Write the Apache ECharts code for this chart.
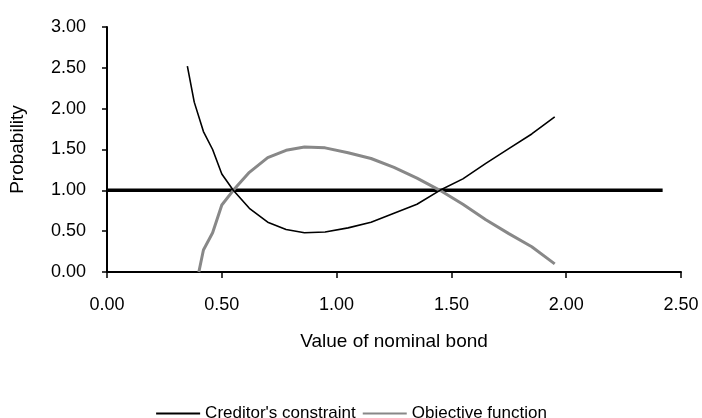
<!DOCTYPE html>
<html>
<head>
<meta charset="utf-8">
<script src="https://cdn.jsdelivr.net/npm/echarts@6/dist/echarts.min.js"></script>
<style>html,body{margin:0;padding:0;background:#fff}#c{width:702px;height:418px}</style>
</head>
<body>
<div id="c"></div>
<script>
var creditorX = [0.35, 0.38, 0.42, 0.46, 0.50, 0.55, 0.62, 0.70, 0.78, 0.86, 0.95, 1.05, 1.15, 1.25, 1.35, 1.45, 1.55, 1.65, 1.75, 1.85, 1.95];
var creditorY = [2.52, 2.08, 1.72, 1.50, 1.20, 1.00, 0.78, 0.61, 0.52, 0.48, 0.49, 0.54, 0.61, 0.72, 0.83, 1.00, 1.14, 1.33, 1.51, 1.69, 1.90];
var objectiveX = [0.40, 0.42, 0.46, 0.50, 0.55, 0.62, 0.70, 0.78, 0.86, 0.95, 1.05, 1.15, 1.25, 1.35, 1.45, 1.55, 1.65, 1.75, 1.85, 1.95];
var objectiveY = [0.00, 0.27, 0.48, 0.82, 1.00, 1.22, 1.40, 1.49, 1.53, 1.52, 1.46, 1.39, 1.28, 1.15, 1.00, 0.83, 0.64, 0.47, 0.31, 0.10];
var refX = [0, 2.42];
var refY = [1, 1];
var seriesNames = ["Creditor's constraint", "Objective function"];
var xTitle = "Value of nominal bond";
var yTitle = "Probability";

function pairs(xs, ys) { return xs.map(function (x, i) { return [x, ys[i]]; }); }

var font = '"Liberation Sans", Arial, sans-serif';
var chart = echarts.init(document.getElementById('c'), null, { renderer: 'canvas' });
chart.setOption({
  animation: false,
  backgroundColor: '#fff',
  grid: { left: 106, right: 21, top: 27, bottom: 146, containLabel: false },
  legend: {
    data: seriesNames,
    top: 400,
    left: 'center',
    itemWidth: 44,
    itemHeight: 12,
    itemGap: 6,
    itemStyle: { opacity: 0 },
    textStyle: { fontFamily: font, fontSize: 17, color: '#000' }
  },
  xAxis: {
    type: 'value', min: 0, max: 2.5, interval: 0.5,
    name: xTitle, nameLocation: 'middle', nameGap: 60,
    nameTextStyle: { fontFamily: font, fontSize: 19, color: '#000' },
    axisLine: { onZero: false, lineStyle: { color: '#000', width: 2 } },
    axisTick: { show: true, inside: false, length: 6, lineStyle: { color: '#000', width: 1.5 } },
    axisLabel: { margin: 24, fontFamily: font, fontSize: 18, color: '#000', formatter: function (v) { return v.toFixed(2); } },
    splitLine: { show: false }
  },
  yAxis: {
    type: 'value', min: 0, max: 3, interval: 0.5,
    name: yTitle, nameLocation: 'middle', nameGap: 80, nameRotate: 90,
    nameTextStyle: { fontFamily: font, fontSize: 19, color: '#000' },
    axisLine: { show: true, onZero: false, lineStyle: { color: '#000', width: 2 } },
    axisTick: { show: true, inside: false, length: 5, lineStyle: { color: '#000', width: 1.5 } },
    axisLabel: { margin: 21, fontFamily: font, fontSize: 18, color: '#000', formatter: function (v) { return v.toFixed(2); } },
    splitLine: { show: false }
  },
  series: [
    { name: seriesNames[0], type: 'line', data: pairs(creditorX, creditorY), showSymbol: false, symbol: 'none',
      lineStyle: { color: '#000', width: 1.6 }, itemStyle: { color: '#000' }, z: 4 },
    { name: seriesNames[1], type: 'line', data: pairs(objectiveX, objectiveY), showSymbol: false, symbol: 'none',
      lineStyle: { color: '#888888', width: 3 }, itemStyle: { color: '#888888' }, z: 3 },
    { name: 'ref', type: 'line', data: pairs(refX, refY), showSymbol: false, symbol: 'none',
      lineStyle: { color: '#000', width: 3.5 }, itemStyle: { color: '#000' }, z: 2, silent: true }
  ]
});
</script>
</body>
</html>
